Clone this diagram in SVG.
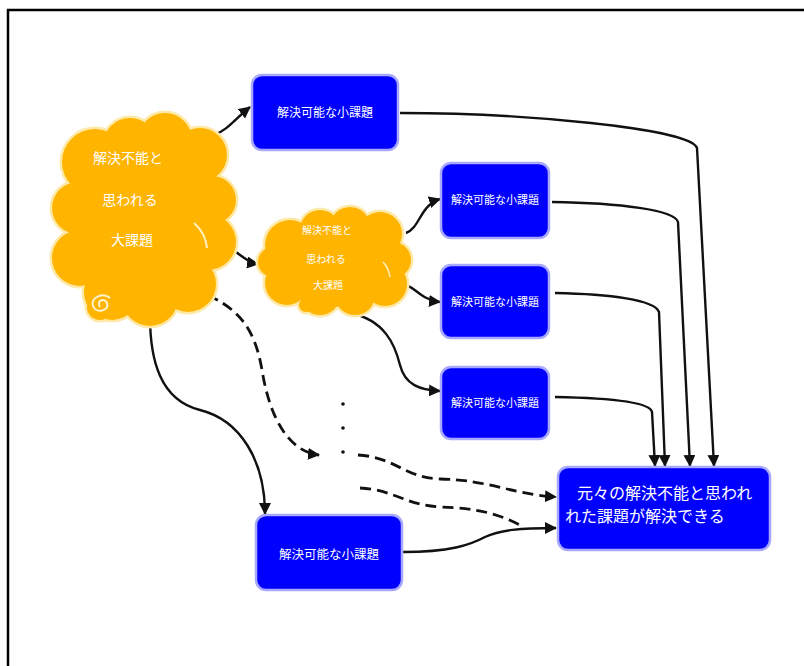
<svg xmlns="http://www.w3.org/2000/svg" width="804" height="666" viewBox="0 0 804 666">
<defs>
<style>
.box{fill:#0000ff;stroke:#a8a8ff;stroke-width:2.5}
.bt{font-family:"Noto Sans CJK JP","Noto Sans",sans-serif;fill:#ffffff;text-anchor:middle}
.ct{font-family:"Noto Sans CJK JP","Noto Sans",sans-serif;fill:#ffffff;text-anchor:middle}
.edge{fill:none;stroke:#111;stroke-width:2.4}
.dash{fill:none;stroke:#111;stroke-width:2.8;stroke-dasharray:11 6}
.cloudo circle{fill:#ffe6a0;stroke:#ffe9a8;stroke-width:5}
.cloudi circle{fill:#ffb400}
</style>
<marker id="ah" markerWidth="12" markerHeight="12" refX="11" refY="6" orient="auto" markerUnits="userSpaceOnUse">
<path d="M0,0 L12,6 L0,12 z" fill="#111"/>
</marker>
</defs>
<rect x="0" y="0" width="804" height="666" fill="#ffffff"/>
<path d="M8,666 L8,10 L804,10" fill="none" stroke="#000" stroke-width="2.5"/>

<g id="connectors">
<path class="edge" d="M214,135 C228,130 236,118 250,107" marker-end="url(#ah)"/>
<path class="edge" d="M226,247 C238,250 244,262 258,264" marker-end="url(#ah)"/>
<path class="edge" d="M406,233 C420,228 420,205 440,199" marker-end="url(#ah)"/>
<path class="edge" d="M400,283 C415,285 420,300 440,302" marker-end="url(#ah)"/>
<path class="edge" d="M350,313 C385,320 395,345 400,365 C405,385 420,390 440,391" marker-end="url(#ah)"/>
<path class="edge" d="M150,316 C150,360 160,400 200,410 C240,420 265,460 265,514" marker-end="url(#ah)"/>
<path class="dash" d="M192,289 C240,305 255,330 262,370 C270,420 290,452 319,455" marker-end="url(#ah)"/>
<circle cx="343" cy="404" r="1.8" fill="#111"/>
<circle cx="343" cy="428" r="1.8" fill="#111"/>
<circle cx="343" cy="452" r="1.8" fill="#111"/>
<path class="dash" d="M358,455 C395,457 405,478 440,479 C490,480 510,494 556,497" marker-end="url(#ah)"/>
<path class="dash" d="M360,488 C395,490 405,505 440,507 C480,508 500,515 520,525"/>
<path class="edge" d="M403,552 C450,552 470,545 485,537 C500,530 520,528 556,528" marker-end="url(#ah)"/>
<path class="edge" d="M400,113 C520,113 690,128 697,148 L714,466" marker-end="url(#ah)"/>
<path class="edge" d="M552,202 C620,203 675,210 678,222 L690,466" marker-end="url(#ah)"/>
<path class="edge" d="M555,293 C610,294 655,300 659,312 L665,466" marker-end="url(#ah)"/>
<path class="edge" d="M555,397 C610,398 650,402 652,412 L655,466" marker-end="url(#ah)"/>
</g>

<g id="bigcloud">
<g class="cloudo">
<circle cx="95" cy="162" r="33"/><circle cx="130" cy="145" r="27"/><circle cx="165" cy="140" r="27"/><circle cx="200" cy="155" r="27"/><circle cx="212" cy="200" r="24"/><circle cx="208" cy="242" r="28"/><circle cx="188" cy="284" r="28"/><circle cx="150" cy="298" r="28"/><circle cx="112" cy="292" r="28"/><circle cx="80" cy="258" r="28"/><circle cx="78" cy="208" r="26"/><circle cx="140" cy="220" r="70"/><circle cx="100" cy="307" r="13"/>
</g>
<g class="cloudi">
<circle cx="95" cy="162" r="33"/><circle cx="130" cy="145" r="27"/><circle cx="165" cy="140" r="27"/><circle cx="200" cy="155" r="27"/><circle cx="212" cy="200" r="24"/><circle cx="208" cy="242" r="28"/><circle cx="188" cy="284" r="28"/><circle cx="150" cy="298" r="28"/><circle cx="112" cy="292" r="28"/><circle cx="80" cy="258" r="28"/><circle cx="78" cy="208" r="26"/><circle cx="140" cy="220" r="70"/><circle cx="100" cy="307" r="13"/>
</g>
<path d="M194,223 C202,230 206,238 207,248" fill="none" stroke="#fff0c0" stroke-width="2"/>
<path d="M100,307 C96,301 104,297 107,303 C110,311 96,314 93,306 C90,297 104,292 110,298" fill="none" stroke="#fff3d0" stroke-width="2"/>
<text class="ct" x="128" y="163" font-size="14">解決不能と</text>
<text class="ct" x="130" y="205" font-size="14">思われる</text>
<text class="ct" x="132" y="245" font-size="14">大課題</text>
</g>

<g id="smallcloud">
<g class="cloudo">
<circle cx="290" cy="245" r="25"/><circle cx="320" cy="230" r="20"/><circle cx="350" cy="227" r="20"/><circle cx="380" cy="234" r="22"/><circle cx="393" cy="260" r="18"/><circle cx="385" cy="284" r="22"/><circle cx="355" cy="295" r="20"/><circle cx="320" cy="295" r="20"/><circle cx="287" cy="283" r="22"/><circle cx="273" cy="262" r="15"/><circle cx="335" cy="262" r="45"/><circle cx="306" cy="305" r="7"/>
</g>
<g class="cloudi">
<circle cx="290" cy="245" r="25"/><circle cx="320" cy="230" r="20"/><circle cx="350" cy="227" r="20"/><circle cx="380" cy="234" r="22"/><circle cx="393" cy="260" r="18"/><circle cx="385" cy="284" r="22"/><circle cx="355" cy="295" r="20"/><circle cx="320" cy="295" r="20"/><circle cx="287" cy="283" r="22"/><circle cx="273" cy="262" r="15"/><circle cx="335" cy="262" r="45"/><circle cx="306" cy="305" r="7"/>
</g>
<path d="M383,262 C387,266 389,271 390,277" fill="none" stroke="#fff0c0" stroke-width="1.5"/>
<text class="ct" x="327" y="234" font-size="10">解決不能と</text>
<text class="ct" x="326" y="263" font-size="10">思われる</text>
<text class="ct" x="328" y="289" font-size="10">大課題</text>
</g>

<g id="box-top">
<rect class="box" x="252" y="75" width="146" height="75" rx="10"/>
<text class="bt" x="325" y="117" font-size="12">解決可能な小課題</text>
</g>
<g id="box-a">
<rect class="box" x="441" y="163" width="108" height="75" rx="10"/>
<text class="bt" x="495" y="204" font-size="11">解決可能な小課題</text>
</g>
<g id="box-b">
<rect class="box" x="441" y="265" width="108" height="73" rx="10"/>
<text class="bt" x="495" y="306" font-size="11">解決可能な小課題</text>
</g>
<g id="box-c">
<rect class="box" x="441" y="367" width="108" height="72" rx="10"/>
<text class="bt" x="495" y="407" font-size="11">解決可能な小課題</text>
</g>
<g id="box-bottom">
<rect class="box" x="256" y="515" width="146" height="75" rx="10"/>
<text class="bt" x="329" y="559" font-size="12.5">解決可能な小課題</text>
</g>
<g id="box-goal">
<rect class="box" x="558" y="467" width="212" height="83" rx="10"/>
<text x="577" y="499" font-size="16" fill="#ffffff" font-family="Noto Sans CJK JP, sans-serif">元々の解決不能と思われ</text>
<text x="565" y="522" font-size="16" fill="#ffffff" font-family="Noto Sans CJK JP, sans-serif">れた課題が解決できる</text>
</g>
</svg>
